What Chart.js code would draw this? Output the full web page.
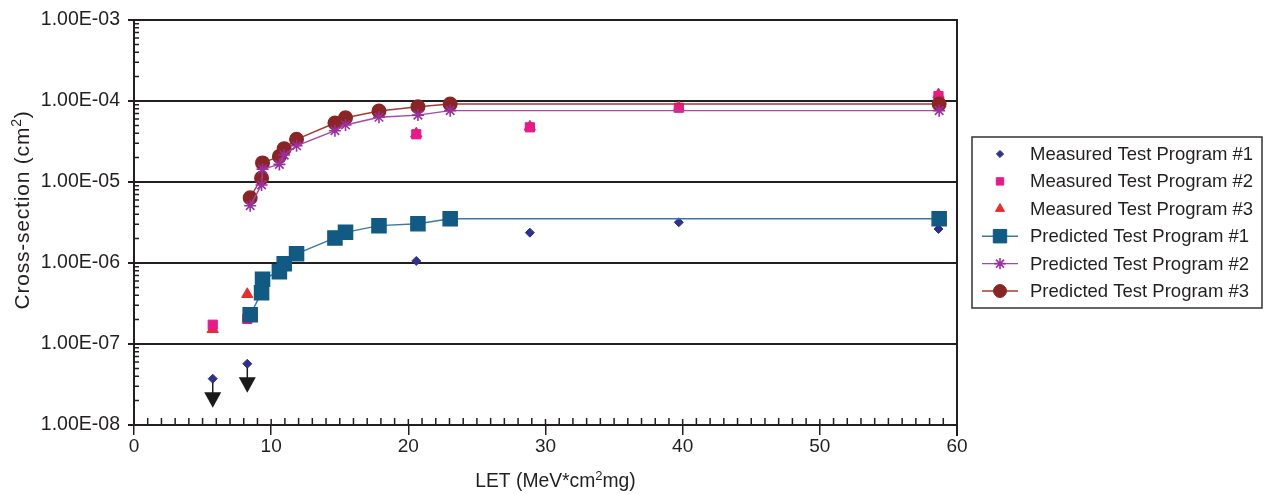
<!DOCTYPE html>
<html>
<head>
<meta charset="utf-8">
<script src="https://cdn.jsdelivr.net/npm/chart.js@4.4.1/dist/chart.umd.min.js"></script>
<style>
  html, body { margin: 0; padding: 0; background: #ffffff; }
  #wrap { width: 1264px; height: 494px; }
</style>
</head>
<body>
<div id="wrap"><canvas id="c" width="1264" height="494"></canvas></div>
<script>
const FONT = '"Liberation Sans", Arial, Helvetica, sans-serif';
const INK = '#231f20';

// Series names
const seriesNames = [
  'Measured Test Program #1',
  'Measured Test Program #2',
  'Measured Test Program #3',
  'Predicted Test Program #1',
  'Predicted Test Program #2',
  'Predicted Test Program #3'
];

// LET of the measured runs (MeV*cm2/mg)
const letMeasured = [5.74, 8.26, 20.58, 28.86, 39.72, 58.65];
// Measured cross-sections (cm2)
const measured1 = [3.73e-8, 5.7e-8, 1.06e-6, 2.37e-6, 3.18e-6, 2.63e-6];
const measured2 = [1.73e-7, 2.04e-7, 3.88e-5, 4.73e-5, 8.26e-5, 1.15e-4];
const measured3 = [1.52e-7, 4.11e-7, 3.95e-5, 4.8e-5, 8.3e-5, 1.2e-4];
// Program #1 runs with no upsets: the value is an upper limit
const measured1UpperLimit = [true, true, false, false, false, false];

// LET grid of the predictions
const letPredicted = [8.47, 9.3, 9.37, 10.6, 10.95, 11.85, 14.65, 15.42, 17.86, 20.7, 23.05, 58.7];
// Predicted cross-sections (cm2)
const predicted1 = [2.3e-7, 4.3e-7, 6.3e-7, 7.8e-7, 9.8e-7, 1.3e-6, 2.04e-6, 2.39e-6, 2.89e-6, 3.05e-6, 3.52e-6, 3.52e-6];
const predicted2 = [5.1e-6, 9.2e-6, 1.44e-5, 1.65e-5, 2.15e-5, 2.8e-5, 4.3e-5, 5.06e-5, 6.3e-5, 6.7e-5, 7.6e-5, 7.6e-5];
const predicted3 = [6.4e-6, 1.12e-5, 1.72e-5, 2.07e-5, 2.58e-5, 3.37e-5, 5.35e-5, 6.22e-5, 7.53e-5, 8.5e-5, 9.2e-5, 9.2e-5];

// Axis ticks
const xTicks = [0, 10, 20, 30, 40, 50, 60];
const yTicks = [1e-8, 1e-7, 1e-6, 1e-5, 1e-4, 1e-3];

const pts = (xs, ys) => xs.map((x, i) => ({ x: x, y: ys[i] }));

function sciLabel(v) {
  const e = Math.round(Math.log10(v));
  const m = v / Math.pow(10, e);
  return m.toFixed(2) + 'E' + (e < 0 ? '-' : '+') + String(Math.abs(e)).padStart(2, '0');
}

const datasets = [
  { label: seriesNames[0], data: pts(letMeasured, measured1), order: 2,
    pointStyle: 'rectRot', pointRadius: 4.5, backgroundColor: '#2e3192', borderColor: '#2e3192', borderWidth: 1, showLine: false },
  { label: seriesNames[1], data: pts(letMeasured, measured2), order: 2,
    pointStyle: 'rect', pointRadius: 6.5, backgroundColor: '#e8198b', borderColor: '#e8198b', borderWidth: 1, showLine: false },
  { label: seriesNames[2], data: pts(letMeasured, measured3), order: 2,
    pointStyle: 'triangle', pointRadius: 6.5, backgroundColor: '#ee2a2a', borderColor: '#ee2a2a', borderWidth: 1, showLine: false },
  { label: seriesNames[3], data: pts(letPredicted, predicted1), order: 1,
    pointStyle: 'rect', pointRadius: 10, backgroundColor: '#115a84', borderColor: '#3a78a3', pointBorderColor: '#115a84',
    borderWidth: 1.4, showLine: true },
  { label: seriesNames[4], data: pts(letPredicted, predicted2), order: 1,
    pointStyle: 'star', pointRadius: 6, backgroundColor: '#9b2fa0', borderColor: '#a348a8', pointBorderColor: '#9b2fa0',
    pointBorderWidth: 1.6, borderWidth: 1.4, showLine: true },
  { label: seriesNames[5], data: pts(letPredicted, predicted3), order: 1,
    pointStyle: 'circle', pointRadius: 6.8, backgroundColor: '#8b2525', borderColor: '#a23b36', pointBorderColor: '#8b2525',
    borderWidth: 1.4, showLine: true }
];

// Minor ticks, right frame edge, axis titles, legend and the upper-limit arrows
const framePlugin = {
  id: 'frame',
  afterDatasetsDraw(chart) {
    const { ctx, chartArea: a, scales: { x, y } } = chart;
    ctx.save();
    ctx.strokeStyle = INK;
    ctx.lineWidth = 1.5;
    ctx.beginPath();
    for (let v = 1; v < 60; v++) {
      const px = x.getPixelForValue(v);
      ctx.moveTo(px, a.bottom);
      ctx.lineTo(px, a.bottom - (v % 10 === 0 ? 6 : 7));
    }
    for (let e = -8; e < -3; e++) {
      for (let m = 2; m <= 9; m++) {
        const py = y.getPixelForValue(m * Math.pow(10, e));
        ctx.moveTo(a.left, py);
        ctx.lineTo(a.left + 5, py);
      }
    }
    ctx.stroke();
    ctx.lineWidth = 2;
    ctx.beginPath();
    ctx.moveTo(a.right, a.top - 1);
    ctx.lineTo(a.right, a.bottom + 11);
    ctx.stroke();

    // upper-limit arrows under Program #1 points
    const meta = chart.getDatasetMeta(0);
    ctx.fillStyle = '#1a1a1a';
    ctx.strokeStyle = '#1a1a1a';
    meta.data.forEach((el, i) => {
      if (!measured1UpperLimit[i]) return;
      ctx.lineWidth = 1.5;
      ctx.beginPath();
      ctx.moveTo(el.x, el.y + 4);
      ctx.lineTo(el.x, el.y + 15);
      ctx.stroke();
      ctx.beginPath();
      ctx.moveTo(el.x - 8.5, el.y + 13.5);
      ctx.lineTo(el.x + 8.5, el.y + 13.5);
      ctx.lineTo(el.x, el.y + 29);
      ctx.closePath();
      ctx.fill();
    });
    ctx.restore();
  },
  afterDraw(chart) {
    const { ctx, chartArea: a } = chart;
    ctx.save();
    ctx.fillStyle = INK;
    ctx.textBaseline = 'alphabetic';

    // x title with superscript
    let base = '19.3px ' + FONT, sup = '13px ' + FONT;
    const partsX = [['LET (MeV*cm', base, 0], ['2', sup, -7], ['mg)', base, 0]];
    let w = 0;
    partsX.forEach(p => { ctx.font = p[1]; w += ctx.measureText(p[0]).width; });
    let cx = (a.left + a.right) / 2 + 10 - w / 2;
    partsX.forEach(p => { ctx.font = p[1]; ctx.fillText(p[0], cx, 487 + p[2]); cx += ctx.measureText(p[0]).width; });

    // y title, rotated
    base = '21px ' + FONT; sup = '14px ' + FONT;
    ctx.letterSpacing = '0.8px';
    const partsY = [['Cross-section (cm', base, 0], ['2', sup, -8], [')', base, 0]];
    w = 0;
    partsY.forEach(p => { ctx.font = p[1]; w += ctx.measureText(p[0]).width; });
    ctx.translate(29, 210);
    ctx.rotate(-Math.PI / 2);
    cx = -w / 2;
    partsY.forEach(p => { ctx.font = p[1]; ctx.fillText(p[0], cx, p[2]); cx += ctx.measureText(p[0]).width; });
    ctx.restore();

    // legend box
    ctx.save();
    const lx = 972, ly = 137, lw = 290, lh = 171;
    ctx.strokeStyle = '#333333';
    ctx.lineWidth = 1.5;
    ctx.strokeRect(lx, ly, lw, lh);
    chart.data.datasets.forEach((ds, i) => {
      const yy = 154 + i * 27.4;
      if (ds.showLine) {
        ctx.strokeStyle = ds.borderColor;
        ctx.lineWidth = ds.borderWidth;
        ctx.beginPath();
        ctx.moveTo(982, yy);
        ctx.lineTo(1018, yy);
        ctx.stroke();
      }
      ctx.fillStyle = ds.backgroundColor;
      ctx.strokeStyle = ds.pointBorderColor || ds.borderColor;
      ctx.lineWidth = ds.pointBorderWidth || 1;
      Chart.helpers.drawPoint(ctx, {
        pointStyle: ds.pointStyle,
        radius: ds.showLine ? ds.pointRadius * 0.95 : ds.pointRadius * 0.8,
        rotation: 0,
        borderWidth: ds.pointBorderWidth || 1
      }, 1000, yy);
      ctx.fillStyle = INK;
      ctx.font = '18.5px ' + FONT;
      ctx.textBaseline = 'middle';
      ctx.fillText(ds.label, 1030, yy + 1);
    });
    ctx.restore();
  }
};

new Chart(document.getElementById('c'), {
  type: 'scatter',
  data: { datasets: datasets },
  options: {
    responsive: false,
    devicePixelRatio: 1,
    animation: false,
    layout: { padding: { left: 0, top: 20, right: 307, bottom: 0 } },
    plugins: { legend: { display: false }, tooltip: { enabled: false } },
    elements: { line: { tension: 0 } },
    scales: {
      x: {
        type: 'linear', min: 0, max: 60,
        afterBuildTicks: s => { s.ticks = xTicks.map(v => ({ value: v })); },
        afterFit: s => { s.height = 69; },
        ticks: { color: INK, font: { family: FONT, size: 19 }, padding: 0, maxRotation: 0, autoSkip: false },
        grid: { drawOnChartArea: false, drawTicks: true, tickLength: 10, color: INK, lineWidth: 1.5 },
        border: { display: true, color: INK, width: 2 }
      },
      y: {
        type: 'logarithmic', min: 1e-8, max: 1e-3,
        afterBuildTicks: s => { s.ticks = yTicks.map(v => ({ value: v, major: true })); },
        afterFit: s => { s.width = 134; },
        ticks: { color: INK, font: { family: FONT, size: 19.5 }, padding: 8, autoSkip: false, callback: v => sciLabel(v) },
        grid: { drawOnChartArea: true, drawTicks: true, tickLength: 6, color: INK, lineWidth: 2 },
        border: { display: true, color: INK, width: 2 }
      }
    }
  },
  plugins: [framePlugin]
});
</script>
</body>
</html>
